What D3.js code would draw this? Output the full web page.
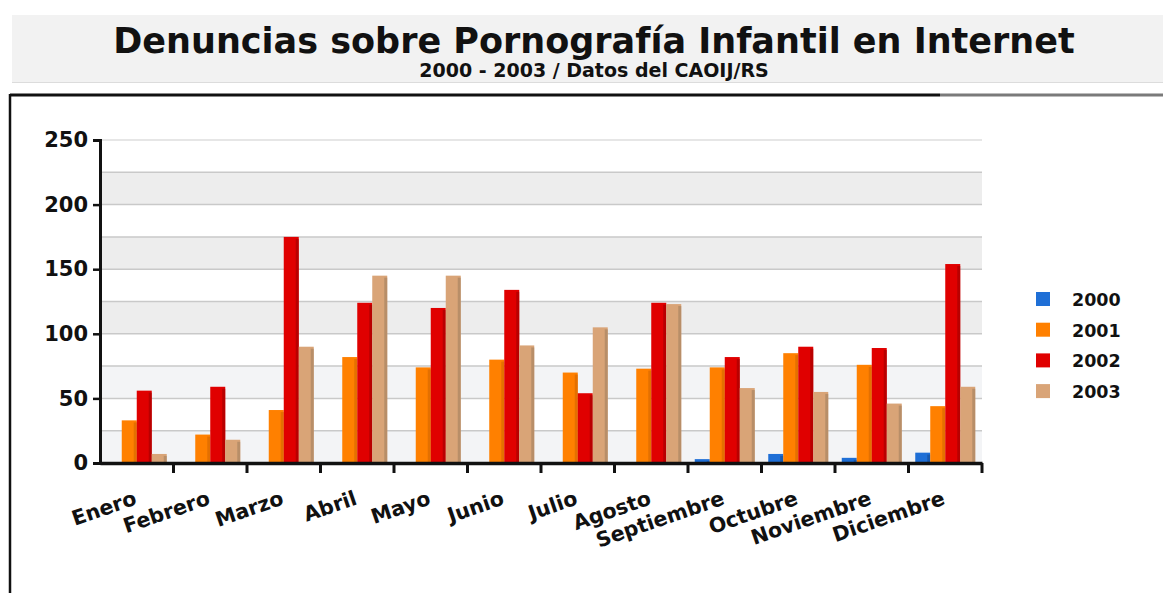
<!DOCTYPE html>
<html>
<head>
<meta charset="utf-8">
<script src="https://cdn.jsdelivr.net/npm/d3@7"></script>
<style>
  body { margin: 0; background: #fff; }
  text { font-family: "DejaVu Sans", Verdana, sans-serif; font-weight: bold; fill: #111; }
</style>
</head>
<body>
<div id="content"></div>
<script>
var months = ["Enero", "Febrero", "Marzo", "Abril", "Mayo", "Junio", "Julio", "Agosto",
              "Septiembre", "Octubre", "Noviembre", "Diciembre"];
var years = ["2000", "2001", "2002", "2003"];
var v2000 = [0, 0, 0, 0, 0, 0, 0, 0, 3, 7, 4, 8];
var v2001 = [33, 22, 41, 82, 74, 80, 70, 73, 74, 85, 76, 44];
var v2002 = [56, 59, 175, 124, 120, 134, 54, 124, 82, 90, 89, 154];
var v2003 = [7, 18, 90, 145, 145, 91, 105, 123, 58, 55, 46, 59];
var yTicks = [0, 50, 100, 150, 200, 250];
var gridSteps = [0, 25, 50, 75, 100, 125, 150, 175, 200, 225, 250];

var colors = {"2000": "#1f6fd6", "2001": "#ff8000", "2002": "#e00000", "2003": "#d9a477"};
var shades = {"2000": "#15509c", "2001": "#d86a00", "2002": "#a80000", "2003": "#a98462"};

var W = 1163, H = 593;
var plot = {l: 100, r: 982, t: 140, b: 463};

var svg = d3.select("#content")
            .append("svg")
            .attr("width", W)
            .attr("height", H);

// header band
svg.append("rect").attr("x", 12).attr("y", 15).attr("width", W - 12).attr("height", 67)
   .attr("fill", "#f2f2f2");
svg.append("line").attr("x1", 12).attr("x2", W).attr("y1", 82.5).attr("y2", 82.5)
   .attr("stroke", "#dcdcdc");
svg.append("text").attr("x", 594).attr("y", 53).attr("text-anchor", "middle")
   .style("font-size", "35px").text("Denuncias sobre Pornografía Infantil en Internet");
svg.append("text").attr("x", 594).attr("y", 77).attr("text-anchor", "middle")
   .style("font-size", "19px").text("2000 - 2003 / Datos del CAOIJ/RS");

// frame
svg.append("line").attr("x1", 10).attr("x2", 940).attr("y1", 95).attr("y2", 95)
   .attr("stroke", "#111").attr("stroke-width", 3);
svg.append("line").attr("x1", 940).attr("x2", W).attr("y1", 95).attr("y2", 95)
   .attr("stroke", "#7a7a7a").attr("stroke-width", 3);
svg.append("line").attr("x1", 10).attr("x2", 10).attr("y1", 94).attr("y2", H)
   .attr("stroke", "#111").attr("stroke-width", 2.5);

var y = d3.scaleLinear().domain([0, 250]).range([plot.b, plot.t]);
var x0 = d3.scaleBand().domain(months).range([plot.l, plot.r]).padding(0);
var x1 = d3.scaleBand().domain(years).range([0, x0.bandwidth()]).paddingInner(0).paddingOuter(0.45);

// alternating grid bands + lines
var grid = svg.append("g");
grid.selectAll("rect.band")
    .data(gridSteps.filter(function(d) { return d % 50 == 0 && d < 250; }))
    .enter().append("rect")
    .attr("class", "band")
    .attr("x", plot.l)
    .attr("width", plot.r - plot.l)
    .attr("y", function(d) { return y(d + 25); })
    .attr("height", function(d) { return y(d) - y(d + 25); })
    .attr("fill", function(d) { return d < 75 ? "#f3f4f6" : "#ededed"; });
grid.selectAll("line.grid")
    .data(gridSteps.filter(function(d) { return d > 0; }))
    .enter().append("line")
    .attr("class", "grid")
    .attr("x1", plot.l).attr("x2", plot.r)
    .attr("y1", function(d) { return y(d); })
    .attr("y2", function(d) { return y(d); })
    .attr("stroke", function(d) { return d == 250 ? "#dedede" : "#c9c9c9"; })
    .attr("stroke-width", 1.5);

// bars
var rows = months.map(function(m, i) {
  return {month: m, vals: [
    {year: "2000", v: v2000[i]}, {year: "2001", v: v2001[i]},
    {year: "2002", v: v2002[i]}, {year: "2003", v: v2003[i]}]};
});

var groups = svg.append("g").selectAll("g")
    .data(rows)
    .enter().append("g")
    .attr("transform", function(d) { return "translate(" + x0(d.month) + ",0)"; });

var bars = groups.selectAll("g")
    .data(function(d) { return d.vals.filter(function(e) { return e.v > 0; }); })
    .enter().append("g");
bars.append("rect")
    .attr("x", function(d) { return x1(d.year); })
    .attr("y", function(d) { return y(d.v); })
    .attr("width", x1.bandwidth())
    .attr("height", function(d) { return y(0) - y(d.v); })
    .attr("fill", function(d) { return colors[d.year]; });
bars.append("rect")
    .attr("x", function(d) { return x1(d.year) + x1.bandwidth() - 3; })
    .attr("y", function(d) { return y(d.v) + 2; })
    .attr("width", 3)
    .attr("height", function(d) { return Math.max(0, y(0) - y(d.v) - 2); })
    .attr("fill", function(d) { return shades[d.year]; })
    .attr("opacity", 0.7);

// y axis
var axisY = d3.axisLeft(y).tickValues(yTicks).tickSize(7).tickPadding(5);
var gy = svg.append("g").attr("transform", "translate(" + plot.l + ",0)").call(axisY);
gy.select(".domain").attr("stroke", "#111").attr("stroke-width", 3);
gy.selectAll(".tick line").attr("stroke", "#111").attr("stroke-width", 2.5);
gy.selectAll(".tick text").style("font-size", "21px").attr("fill", "#111")
  .style("font-family", "'DejaVu Sans', sans-serif");

// x axis
var axisX = d3.axisBottom(x0).tickSize(0).tickFormat("");
var gx = svg.append("g").attr("transform", "translate(0," + plot.b + ")").call(axisX);
gx.select(".domain").attr("stroke", "#111").attr("stroke-width", 3.5);
gx.selectAll(".sep")
  .data(months)
  .enter().append("line")
  .attr("class", "sep")
  .attr("x1", function(d) { return x0(d) + x0.bandwidth(); })
  .attr("x2", function(d) { return x0(d) + x0.bandwidth(); })
  .attr("y1", 0).attr("y2", 10)
  .attr("stroke", "#111").attr("stroke-width", 3);

svg.append("g").selectAll("text")
   .data(months)
   .enter().append("text")
   .attr("transform", function(d) {
     return "translate(" + (x0(d) + x0.bandwidth() / 2 + 1) + ",504) rotate(-19)";
   })
   .attr("text-anchor", "end")
   .style("font-size", "20.5px")
   .text(function(d) { return d; });

// legend
var legend = svg.append("g").selectAll("g")
   .data(years)
   .enter().append("g")
   .attr("transform", function(d, i) { return "translate(1036," + (292 + i * 30.7) + ")"; });
legend.append("rect").attr("width", 14).attr("height", 14)
   .attr("fill", function(d) { return colors[d]; });
legend.append("text").attr("x", 36).attr("y", 14)
   .style("font-size", "17.5px")
   .text(function(d) { return d; });
</script>
</body>
</html>
